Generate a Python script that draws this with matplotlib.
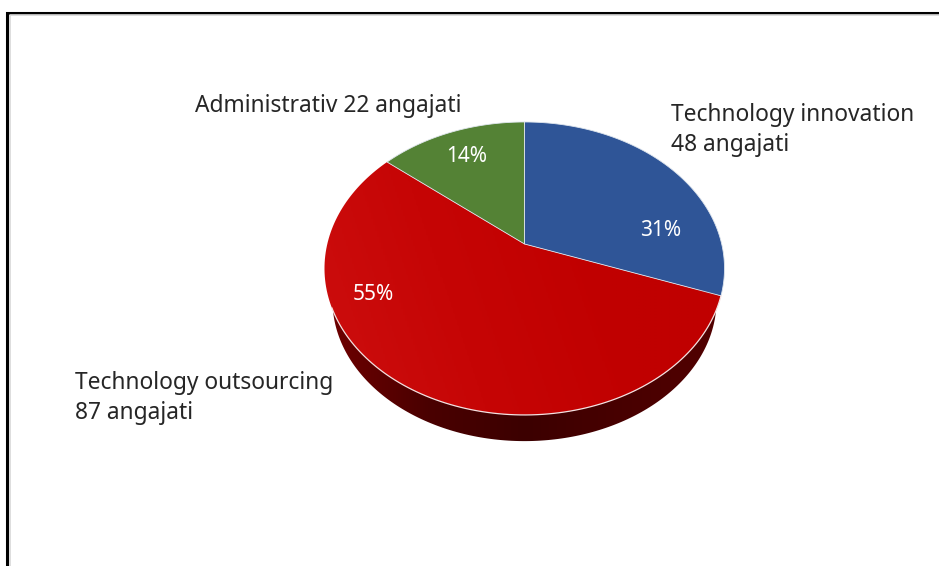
import numpy as np
import matplotlib
matplotlib.use('Agg')
import matplotlib.pyplot as plt
from matplotlib.colors import LinearSegmentedColormap
from matplotlib.patches import Polygon

plt.rcParams['font.family'] = 'Noto Sans'

# clockwise from 12 o'clock
categories = ['Technology innovation', 'Technology outsourcing', 'Administrativ']
employees = [48, 87, 22]
colors = ['#2f5597', '#c00000', '#548235']

shares = np.array(employees) / sum(employees)
edges = np.concatenate([[0], np.cumsum(shares)]) * 2 * np.pi

# tilted disc: apex sits above the middle of the ellipse
def project(t, cx=524.5, cy=244, scale=1.0):
    k = 0.167
    x = np.sin(t)
    y = np.cos(t)
    d = 1 + k * y
    return cx + scale * 197.2 * x / d, cy - scale * 142.4 * y / d

fig = plt.figure(figsize=(9.39, 5.66), dpi=100)
ax = fig.add_axes([0, 0, 1, 1])
ax.set_xlim(0, 939)
ax.set_ylim(566, 0)
ax.axis('off')

# frame, open on the right and at the bottom
ax.plot([7, 7, 939], [566, 12.5, 12.5], color='black', lw=2.2, solid_joinstyle='miter')
ax.plot([9.5, 9.5, 939], [566, 15, 15], color='#d8d8d8', lw=1.2)

# side wall
t = np.linspace(0, 2 * np.pi, 400)
bx, by = project(t, cy=277, scale=0.96)
wall = Polygon(np.column_stack([bx, by]), closed=True, fc='none', ec='none')
ax.add_patch(wall)
wall_cmap = LinearSegmentedColormap.from_list('wall', ['#6e0000', '#4a0000', '#3c0000', '#480000', '#520000'])
im = ax.imshow(np.linspace(0, 1, 256)[None, :], cmap=wall_cmap, extent=[330, 720, 445, 290],
               aspect='auto', zorder=1)
im.set_clip_path(wall)

# top face
red_cmap = LinearSegmentedColormap.from_list('face', ['#cd0f0f', '#c60505', '#c00000', '#c00000'])
gx, gy = np.meshgrid(np.linspace(0, 1, 200), np.linspace(0, 1, 200))
for i, name in enumerate(categories):
    a = np.linspace(edges[i], edges[i + 1], 150)
    px, py = project(a)
    pts = np.column_stack([np.r_[524.5, px], np.r_[244, py]])
    if name == 'Technology outsourcing':
        wedge = Polygon(pts, closed=True, fc='none', ec='none', zorder=2)
        ax.add_patch(wedge)
        g = ax.imshow(gx - 0.25 * gy, cmap=red_cmap, extent=[320, 725, 420, 120],
                      aspect='auto', zorder=2)
        g.set_clip_path(wedge)
        # light rim only where the face meets the wall
        ax.plot(px[:102], py[:102], color='#f4e2e2', lw=0.9, zorder=3)
    else:
        ax.add_patch(Polygon(pts, closed=True, fc=colors[i], ec='#dfe6ee', lw=0.6, zorder=3))
ax.set_xlim(0, 939)
ax.set_ylim(566, 0)

# percentages
pct_pos = [(660.5, 231), (373.5, 294), (466.5, 157)]
for s, (x, y) in zip(shares, pct_pos):
    ax.text(x, y, f'{round(s * 100)}%', color='white', fontsize=15, ha='center', va='center',
            fontweight='medium', zorder=4)

# category labels
label_text = [f'{categories[0]}\n{employees[0]} angajati',
              f'{categories[1]}\n{employees[1]} angajati',
              f'{categories[2]} {employees[2]} angajati']
label_pos = [(671, 130), (75, 398), (195, 106)]
for s, (x, y) in zip(label_text, label_pos):
    ax.text(x, y, s, color='#262626', fontsize=16.4, ha='left', va='center', linespacing=1.33)

fig.savefig('out.png', dpi=100)
